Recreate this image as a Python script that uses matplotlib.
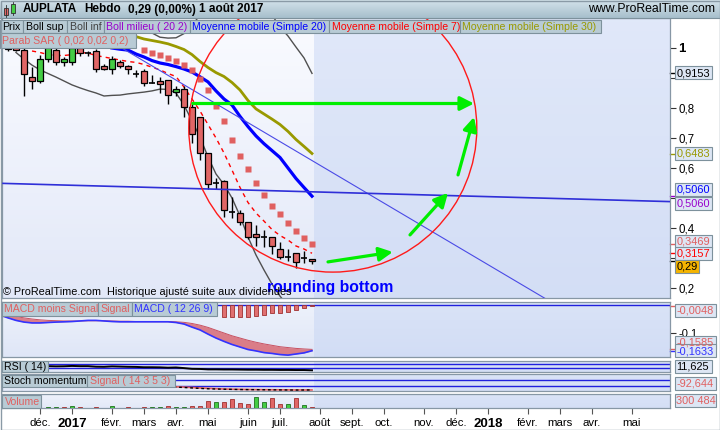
import numpy as np
import pandas as pd
import matplotlib
matplotlib.use('Agg')
import matplotlib.pyplot as plt
from matplotlib.patches import Rectangle, Ellipse, FancyArrowPatch
from matplotlib.colors import LinearSegmentedColormap
import matplotlib.transforms as mtrans

plt.rcParams['font.family'] = ['Liberation Sans', 'DejaVu Sans']

W, H = 720, 430

# weekly bars, week 0 = Monday 2 Jan 2017
start_week = pd.Timestamp('2017-01-02')

candle_week = list(range(-8, 31))
c_open = [1.0, 1.03, 0.993, 0.902, 0.891, 0.962, 0.993, 0.952, 0.952, 1.0, 0.985, 0.991, 0.941, 0.930,
          0.952, 0.941, 0.913, 0.923, 0.882, 0.891, 0.893, 0.852, 0.862, 0.802, 0.771, 0.649, 0.549,
          0.558, 0.452, 0.449, 0.419, 0.38, 0.369, 0.369, 0.33, 0.304, 0.316, 0.299, 0.297]
c_high = [1.02, 1.04, 1.0, 0.936, 0.977, 1.02, 1.0, 0.97, 1.01, 1.005, 0.99, 0.997, 0.948, 0.973,
          0.96, 0.945, 0.927, 0.93, 0.91, 0.905, 0.895, 0.872, 0.872, 0.812, 0.771, 0.649, 0.567,
          0.56, 0.503, 0.46, 0.419, 0.41, 0.395, 0.37, 0.352, 0.33, 0.318, 0.322, 0.297]
c_low = [0.99, 0.99, 0.841, 0.862, 0.882, 0.955, 0.945, 0.94, 0.945, 0.975, 0.975, 0.921, 0.927, 0.913,
         0.935, 0.913, 0.905, 0.875, 0.882, 0.851, 0.813, 0.84, 0.771, 0.682, 0.627, 0.529, 0.53,
         0.438, 0.434, 0.41, 0.365, 0.34, 0.338, 0.313, 0.297, 0.29, 0.267, 0.285, 0.28]
c_close = [0.997, 0.995, 0.913, 0.891, 0.962, 1.005, 0.952, 0.962, 0.999, 0.982, 0.985, 0.93, 0.930, 0.962,
           0.941, 0.930, 0.913, 0.882, 0.882, 0.880, 0.843, 0.862, 0.802, 0.712, 0.649, 0.547, 0.549,
           0.46, 0.452, 0.419, 0.369, 0.369, 0.369, 0.34, 0.304, 0.304, 0.286, 0.299, 0.29]

sma20_week = list(range(5, 31))
sma20 = [1.0, 0.996, 0.993, 0.98, 0.97, 0.958, 0.95, 0.945, 0.938, 0.93, 0.92, 0.904, 0.887, 0.857,
         0.83, 0.81, 0.772, 0.738, 0.707, 0.681, 0.658, 0.635, 0.60, 0.565, 0.535, 0.5060]

sma30_week = list(range(7, 31))
sma30 = [1.045, 1.038, 1.03, 1.025, 1.02, 1.014, 1.005, 0.995, 0.978, 0.955, 0.935, 0.918, 0.905,
         0.885, 0.86, 0.825, 0.797, 0.78, 0.763, 0.745, 0.722, 0.695, 0.672, 0.6483]

sma7_week = list(range(-5, 31))
sma7 = [0.99, 0.985, 0.978, 0.975, 0.975, 0.978, 0.985, 0.983, 0.975, 0.97, 0.965, 0.96, 0.955, 0.952,
        0.945, 0.936, 0.927, 0.915, 0.905, 0.87, 0.83, 0.79, 0.745, 0.70, 0.65, 0.593, 0.535, 0.485,
        0.45, 0.423, 0.395, 0.375, 0.36, 0.34, 0.33, 0.3157]

sar_week = list(range(9, 31))
sar = [0.993, 0.983, 0.977, 0.968, 0.957, 0.945, 0.927, 0.897, 0.86, 0.807, 0.757, 0.693, 0.64,
       0.597, 0.55, 0.51, 0.473, 0.447, 0.417, 0.39, 0.367, 0.3469]

boll_inf_week = list(range(-7, 31))
boll_inf = [0.985, 0.963, 0.943, 0.927, 0.915, 0.903, 0.89, 0.877, 0.867, 0.858, 0.85, 0.84, 0.842,
            0.843, 0.847, 0.85, 0.853, 0.857, 0.863, 0.862, 0.85, 0.81, 0.757, 0.703, 0.637, 0.58,
            0.545, 0.50, 0.44, 0.37, 0.31, 0.26, 0.213, 0.173, 0.14, 0.12, 0.105, 0.0967]

boll_sup_week = list(range(9, 31))
boll_sup = [1.07, 1.05, 1.036, 1.033, 1.034, 1.048, 1.075, 1.11, 1.14, 1.16, 1.17, 1.17, 1.16,
            1.15, 1.14, 1.13, 1.11, 1.07, 1.04, 1.003, 0.967, 0.9153]

# drawn objects (week, price)
trend_line = [(3.5, 1.043), (62.0, 0.12)]
flat_line = [(-9.0, 0.549), (74.75, 0.488)]
circle_center = (32.6, 0.733)
circle_size = (36.0, 0.96)
arrows = [((15.1, 0.815), (50.25, 0.815)),
          ((32.0, 0.287), (40.1, 0.32)),
          ((42.25, 0.377), (47.0, 0.517)),
          ((48.25, 0.577), (50.25, 0.77))]

# MACD
macd_week = list(range(-9, 31))
macd = [-0.036, -0.046, -0.055, -0.061, -0.064, -0.064, -0.0625, -0.061, -0.06, -0.059, -0.057,
        -0.055, -0.055, -0.057, -0.059, -0.06, -0.06, -0.06, -0.06, -0.06, -0.06, -0.06, -0.0625,
        -0.068, -0.079, -0.089, -0.104, -0.118, -0.13, -0.141, -0.15, -0.159, -0.164, -0.17,
        -0.173, -0.177, -0.179, -0.175, -0.171, -0.1633]
signal = [-0.029, -0.035, -0.041, -0.046, -0.05, -0.053, -0.055, -0.056, -0.057, -0.057, -0.057,
          -0.056, -0.056, -0.056, -0.057, -0.058, -0.058, -0.059, -0.059, -0.059, -0.059, -0.059,
          -0.06, -0.062, -0.066, -0.072, -0.08, -0.09, -0.1, -0.11, -0.118, -0.126, -0.133, -0.139,
          -0.144, -0.149, -0.152, -0.155, -0.157, -0.1585]
hist_week = list(range(19, 31))
hist = [-0.042, -0.042, -0.042, -0.042, -0.039, -0.036, -0.030, -0.027, -0.024, -0.018, -0.011, -0.0048]

# RSI
rsi_week = list(range(-3, 31))
rsi = [50, 48, 49, 52, 50, 50, 45, 44, 48, 46, 44, 43, 40, 40, 39, 36, 38, 32, 25, 24, 20, 20, 19,
       19, 18, 17, 17, 16, 16, 15, 15, 14, 14, 11.625]

# Stochastic momentum
stoch_week = list(range(12, 31))
stoch = [-50, -55, -60, -66, -72, -77, -80, -83, -85, -87, -88, -89, -90, -91, -92, -93, -94, -93, -92.5]
stoch_sig = [-45, -50, -55, -60, -66, -71, -76, -80, -83, -85, -87, -88, -89, -90, -91, -92, -93, -93,
             -92.644]

# Volume
vol_week = [-3, -2, -1, 0, 1, 3, 5, 7, 9, 10, 11, 12, 13, 14, 15, 16, 17, 18, 19, 20, 21, 22, 23, 24,
            25, 26, 27, 28, 29, 30]
vol = [300000, 300000, 300000, 600000, 300000, 300000, 600000, 300000, 300000, 300000, 300000,
       600000, 300000, 300000, 600000, 600000, 2250000, 1800000, 1800000, 2700000, 1500000,
       1200000, 3400000, 1900000, 3100000, 1200000, 1200000, 3100000, 900000, 300484]
vol_up = [1, 1, 0, 1, 0, 0, 1, 0, 0, 1, 1, 0, 1, 1, 0, 0, 0, 1, 0, 0, 0, 0, 1, 1, 0, 0, 1, 0, 1, 0]

month_labels = ['déc.', '2017', 'févr.', 'mars', 'avr.', 'mai', 'juin', 'juil.', 'août', 'sept.',
                'oct.', 'nov.', 'déc.', '2018', 'févr.', 'mars', 'avr.', 'mai']

RED = '#e06666'
GREEN = '#44cc44'
SALMON = '#e06060'
XLIM = (-8.75, 74.75)


def fmt(v, n):
    return f"{v:.{n}f}".replace('.', ',')


def px_axes(x0, y0, x1, y1):
    return fig.add_axes([x0 / W, 1 - y1 / H, (x1 - x0) / W, (y1 - y0) / H])


def panel_bg(ax, top, bottom):
    grad = np.linspace(0, 1, 64).reshape(-1, 1)
    cmap = LinearSegmentedColormap.from_list('bg', [top, bottom])
    ax.imshow(grad, cmap=cmap, extent=[0, 1, 0, 1], transform=ax.transAxes,
              aspect='auto', zorder=0, origin='upper')
    ax.axvspan(candle_week[-1] + 0.3, 80, color='#c2d2f3', alpha=0.45, lw=0, zorder=0.5)
    for s in ax.spines.values():
        s.set_color('#8797a5')
        s.set_linewidth(0.9)


fig = plt.figure(figsize=(7.2, 4.3), dpi=100)
fig.patch.set_facecolor('white')

# ---------------- main price panel ----------------
ax = px_axes(2, 18, 670, 298)
panel_bg(ax, '#fafbff', '#e2e8f8')

ax.plot(sma20_week, sma20, color='#9900cc', lw=1, zorder=3)
ax.plot(boll_inf_week, boll_inf, color='#505050', lw=1, zorder=3)
ax.plot(boll_sup_week, boll_sup, color='#505050', lw=1, zorder=3)
ax.plot(sma30_week, sma30, color='#999900', lw=2, zorder=3)
ax.plot(sma20_week, sma20, color='#0000ff', lw=2.3, zorder=3)
ax.plot(sma7_week, sma7, color='#ff0000', lw=1, ls=(0, (3, 3)), zorder=3)
ax.plot(sar_week, sar, ls='none', marker='s', ms=3.8, color='#e06060', mec='none', zorder=3)

for w, op, hi, lo, cl in zip(candle_week, c_open, c_high, c_low, c_close):
    ax.vlines(w, lo, hi, color='black', lw=1.0, zorder=4)
    if op == cl:
        ax.hlines(op, w - 0.34, w + 0.34, color='black', lw=1.2, zorder=5)
    else:
        col = GREEN if cl > op else RED
        ax.add_patch(Rectangle((w - 0.34, min(op, cl)), 0.68, abs(cl - op), facecolor=col,
                               edgecolor='black', lw=0.9, zorder=5))

ax.plot([p[0] for p in trend_line], [p[1] for p in trend_line], color='#4a4ae6', lw=0.8, zorder=6)
ax.plot([p[0] for p in flat_line], [p[1] for p in flat_line], color='#2f2fd8', lw=1.2, zorder=6)
ax.add_patch(Ellipse(circle_center, circle_size[0], circle_size[1], fill=False,
                     edgecolor='#ff1a1a', lw=1.0, zorder=6))
for tail, head in arrows:
    ax.add_patch(FancyArrowPatch(tail, head, arrowstyle='-|>,head_length=0.75,head_width=0.38',
                                 mutation_scale=11, color='#00ee00', lw=2.3,
                                 shrinkA=0, shrinkB=0, zorder=7))

ax.text(24.4, 0.2033, 'rounding bottom', color='#0000ff', fontsize=11.3, fontweight='bold',
        ha='left', va='center', zorder=8)
ax.text(0.002, 0.022, '\u00a9 ProRealTime.com  Historique ajusté suite aux dividendes',
        transform=ax.transAxes, fontsize=7.8, ha='left', va='center', zorder=8)

ax.set_xlim(*XLIM)
ax.set_ylim(0.2 - 10 / 300, 1.1)
ax.set_xticks([])
ax.yaxis.tick_right()
pticks = [0.2, 0.3, 0.4, 0.5, 0.6, 0.7, 0.8, 0.9, 1.0]
# 0,3 0,5 and 0,9 sit under the value tags in the original, so they get no label
hidden_ticks = [0.3, 0.5, 0.9]
ax.set_yticks(pticks)
ax.set_yticklabels(['' if t in hidden_ticks else (fmt(t, 1) if t < 1 else '1') for t in pticks])
ax.tick_params(axis='y', length=4, width=0.8, color='#333333', labelsize=8.3, pad=2)
lab1 = ax.get_yticklabels()[-1]
lab1.set_fontweight('bold')
lab1.set_fontsize(9.5)

# ---------------- MACD ----------------
axm = px_axes(2, 302, 670, 357)
panel_bg(axm, '#eef2fb', '#dfe6f7')
axm.axhline(0, color='#2020dd', lw=1, zorder=2)
axm.fill_between(macd_week, macd, signal, color='#d96a74', alpha=0.85, lw=0, zorder=2)
axm.plot(macd_week, signal, color='#c85060', lw=0.7, zorder=3)
axm.plot(macd_week, macd, color='#3333ff', lw=1.2, zorder=3)
axm.bar(hist_week, hist, width=0.62, color='#e07070', edgecolor='#a03030', lw=0.6, zorder=3)
axm.set_xlim(*XLIM)
axm.set_ylim(-52 / 280, 3 / 280)
axm.set_xticks([])
axm.yaxis.tick_right()
axm.set_yticks([-0.1])
axm.set_yticklabels(['-0,1'])
axm.tick_params(axis='y', length=4, width=0.8, color='#333333', labelsize=8, pad=2)

# ---------------- RSI ----------------
axr = px_axes(2, 361, 670, 372)
panel_bg(axr, '#eef2fb', '#e3e9f8')
axr.axhline(70, color='#2020dd', lw=1)
axr.axhline(30, color='#2020dd', lw=1)
axr.plot(rsi_week, rsi, color='black', lw=1.4, zorder=3)
axr.set_xlim(*XLIM)
axr.set_ylim(-4.3, 98)
axr.set_xticks([])
axr.set_yticks([])

# ---------------- Stochastic momentum ----------------
axs = px_axes(2, 374, 670, 391)
panel_bg(axs, '#eef2fb', '#e3e9f8')
axs.axhline(40, color='#2020dd', lw=1)
axs.axhline(-40, color='#2020dd', lw=1)
axs.plot(stoch_week, stoch_sig, color=SALMON, lw=1.2, zorder=3)
axs.plot(stoch_week, stoch, color='black', lw=1, ls=(0, (2, 2)), zorder=3)
axs.set_xlim(*XLIM)
axs.set_ylim(-106.7, 120)
axs.set_xticks([])
axs.set_yticks([])

# ---------------- Volume ----------------
axv = px_axes(2, 394, 670, 408)
panel_bg(axv, '#eef2fb', '#e3e9f8')
axv.bar(vol_week, vol, width=0.62,
        color=['#44cc44' if u else '#e06666' for u in vol_up],
        edgecolor=['#207020' if u else '#a03030' for u in vol_up], lw=0.6, zorder=3)
axv.set_xlim(*XLIM)
axv.set_ylim(0, 4.2e6)
axv.set_yticks([])
months = pd.date_range('2016-12-01', '2018-05-01', freq='MS')
first_mondays = [m + pd.Timedelta(days=(7 - m.weekday()) % 7) for m in months]
month_pos = [(d - start_week).days // 7 for d in first_mondays]
axv.set_xticks(month_pos)
axv.set_xticklabels(month_labels)
axv.tick_params(axis='x', direction='out', length=4, width=0.8, color='#555555',
                labelsize=8.2, pad=3)
for lab in axv.get_xticklabels():
    if lab.get_text() in ('2017', '2018'):
        lab.set_fontweight('bold')
        lab.set_fontsize(9.5)

# colour marks on the right scale at the last values
blend = mtrans.blended_transform_factory(ax.transAxes, ax.transData)
for v, c in [(boll_sup[-1], 'black'), (sma30[-1], '#999900'), (sma20[-1], '#9900cc'),
             (sar[-1], SALMON), (sma7[-1], '#ff0000'), (c_close[-1], 'black')]:
    ax.plot([1.0, 1.008], [v, v], transform=blend, color=c, lw=1, clip_on=False)
blend_m = mtrans.blended_transform_factory(axm.transAxes, axm.transData)
for v, c in [(hist[-1], SALMON), (signal[-1], SALMON), (macd[-1], '#3333ff')]:
    axm.plot([1.0, 1.008], [v, v], transform=blend_m, color=c, lw=1, clip_on=False)

# ---------------- overlay: header, legends, value tags ----------------
ov = fig.add_axes([0, 0, 1, 1])
ov.set_zorder(10)
ov.axis('off')
hgrad = np.linspace(0, 1, 32).reshape(-1, 1)
ov.imshow(hgrad, cmap=LinearSegmentedColormap.from_list('hd', ['#d3e2ea', '#a7bfcc']),
          extent=[0, W, 18, 0], aspect='auto', origin='upper', zorder=1)
ov.plot([0, W], [18, 18], color='#7d919c', lw=0.8)

# icon
ov.add_patch(Rectangle((4, 8), 4, 7, facecolor=RED, edgecolor='#303030', lw=0.6))
ov.plot([6, 6], [5, 17], color='#303030', lw=0.6, zorder=1)
ov.add_patch(Rectangle((11, 3.5), 4, 9, facecolor=GREEN, edgecolor='#303030', lw=0.6, zorder=3))
ov.plot([13, 13], [1, 15], color='#303030', lw=0.6, zorder=2)

for x, s in [(23, 'AUPLATA'), (84, 'Hebdo'), (128, '0,29 (0,00%)'), (199, '1 août 2017')]:
    ov.text(x, 9.5, s, fontsize=8.5, fontweight='bold', ha='left', va='center', zorder=5)
ov.text(715, 9.5, 'www.ProRealTime.com', fontsize=8.8, ha='right', va='center', zorder=5)

BOX_FC = '#b8cbd5'
BOX_EC = '#7d919c'
legend_boxes = [
    ('Prix', 'black', 0, 23, 19.5, 33), ('Boll sup', 'black', 23, 67, 19.5, 33),
    ('Boll inf', '#404040', 67, 104, 19.5, 33), ('Boll milieu ( 20 2)', '#9900cc', 104, 190, 19.5, 33),
    ('Moyenne mobile (Simple 20)', '#0000ff', 190, 329, 19.5, 33),
    ('Moyenne mobile (Simple 7)', '#ff0000', 329, 460, 19.5, 33),
    ('Moyenne mobile (Simple 30)', '#999900', 460, 601, 19.5, 33),
    ('Parab SAR ( 0,02 0,02 0,2)', SALMON, 0, 136, 33, 48),
    ('MACD moins Signal', SALMON, 2, 98, 302, 316), ('Signal', SALMON, 98, 132, 302, 316),
    ('MACD ( 12 26 9)', '#3333ff', 132, 217, 302, 316),
    ('RSI ( 14)', 'black', 2, 48, 361, 372),
    ('Stoch momentum', 'black', 2, 87, 375, 387), ('Signal ( 14 3 5 3)', SALMON, 87, 175, 375, 387),
    ('Volume', SALMON, 2, 41, 395, 408),
]
for s, c, x0, x1, y0, y1 in legend_boxes:
    ov.add_patch(Rectangle((x0, y0), x1 - x0, y1 - y0, facecolor=BOX_FC, edgecolor=BOX_EC,
                           lw=0.8, zorder=4))
    ov.text(x0 + 2.5, (y0 + y1) / 2 + 0.5, s, color=c, fontsize=7.6, ha='left', va='center', zorder=5)

TAG_FC = '#dde6f4'
tags = [
    (fmt(boll_sup[-1], 4), 'black', 72.5, TAG_FC, 37), (fmt(sma30[-1], 4), '#999900', 153, TAG_FC, 37),
    (fmt(sma20[-1], 4), '#0000ff', 189.5, TAG_FC, 37), (fmt(sma20[-1], 4), '#9900cc', 203.5, TAG_FC, 37),
    (fmt(sar[-1], 4), SALMON, 241.5, TAG_FC, 37), (fmt(sma7[-1], 4), '#ff0000', 253.5, TAG_FC, 37),
    (fmt(c_close[-1], 2), 'black', 266, '#f5b400', 24),
    (fmt(hist[-1], 4), SALMON, 310, TAG_FC, 41),
    (fmt(signal[-1], 4), SALMON, 342, TAG_FC, 41), (fmt(macd[-1], 4), '#3333ff', 350.5, TAG_FC, 41),
    (fmt(rsi[-1], 3), 'black', 366, TAG_FC, 37),
    (fmt(stoch_sig[-1], 3), SALMON, 383.5, TAG_FC, 41),
    (f"{vol[-1]:,}".replace(',', ' '), SALMON, 400.5, TAG_FC, 41),
]
for s, c, yc, fc, wd in tags:
    ov.add_patch(Rectangle((674.5, yc - 6.5), wd, 13, facecolor=fc, edgecolor=BOX_EC, lw=0.8, zorder=4))
    ov.text(676.5, yc + 0.5, s, color=c, fontsize=7.9, ha='left', va='center', zorder=5)

ov.add_patch(Rectangle((0.5, 0.5), W - 1, H - 1, fill=False, edgecolor='#8a9aa6', lw=1, zorder=6))
ov.set_xlim(0, W)
ov.set_ylim(H, 0)

fig.savefig('out.png', dpi=100)
